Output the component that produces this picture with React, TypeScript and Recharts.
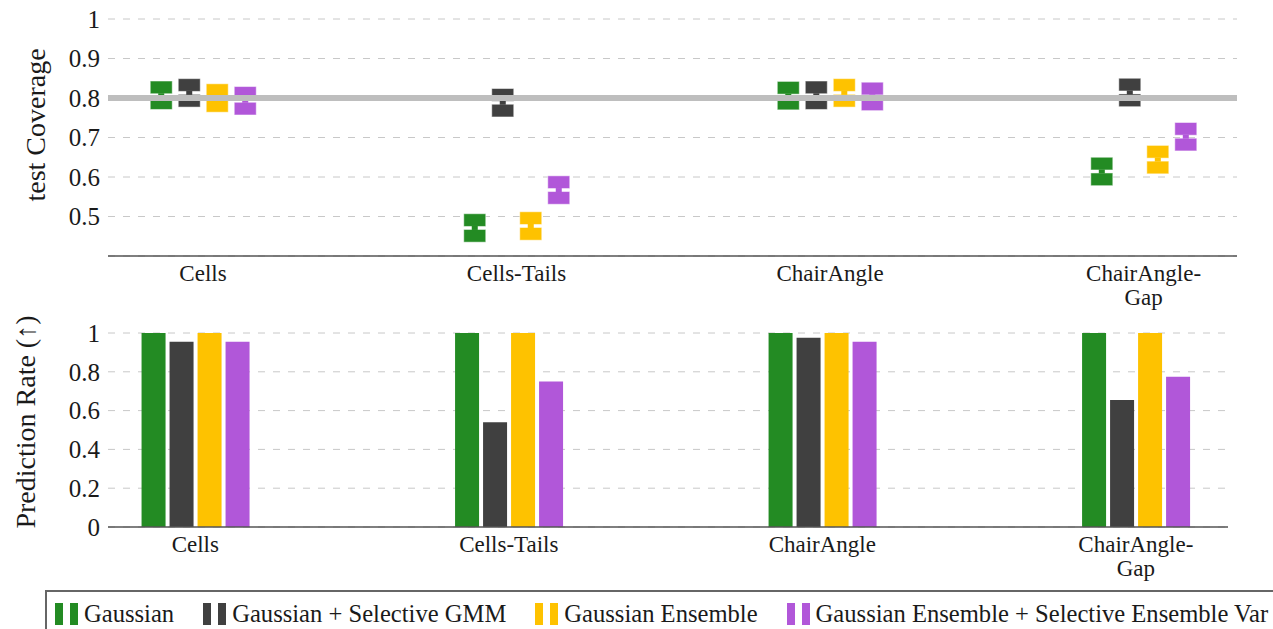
import React from "react";
import {
  ComposedChart,
  BarChart,
  Bar,
  XAxis,
  YAxis,
  CartesianGrid,
  ReferenceLine,
} from "recharts";

// categories (index on the numeric x axis) and their tick lines
const categories = ["Cells", "Cells-Tails", "ChairAngle", "ChairAngle-Gap"];
const categoryLines = [["Cells"], ["Cells-Tails"], ["ChairAngle"], ["ChairAngle-", "Gap"]];

// test coverage: mean of each interval marker
const gaussianCov = [0.807, 0.471, 0.806, 0.614];
const gmmCov = [0.813, 0.788, 0.807, 0.814];
const ensembleCov = [0.8, 0.476, 0.813, 0.644];
const ensVarCov = [0.793, 0.567, 0.804, 0.702];
const covHalfWidth = [0.036, 0.036, 0.036, 0.036];

// prediction rate
const gaussianRate = [1, 1, 1, 1];
const gmmRate = [0.955, 0.54, 0.975, 0.655];
const ensembleRate = [1, 1, 1, 1];
const ensVarRate = [0.955, 0.75, 0.955, 0.775];

const coverageTicks = [0.5, 0.6, 0.7, 0.8, 0.9, 1];
const rateTicks = [0, 0.2, 0.4, 0.6, 0.8, 1];

const series = [
  { key: "gaussian", name: "Gaussian", color: "#238b23" },
  { key: "gmm", name: "Gaussian + Selective GMM", color: "#404040" },
  { key: "ensemble", name: "Gaussian Ensemble", color: "#fec200" },
  { key: "ensVar", name: "Gaussian Ensemble + Selective Ensemble Var", color: "#b157d9" },
];

const FONT = "'Liberation Serif', serif";
const TEXT = "#1a1a1a";

const range = (m: number, h: number) => [m - h, m + h];

const coverageData = categories.map((name, i) => ({
  idx: i,
  name,
  gaussian: range(gaussianCov[i], covHalfWidth[i]),
  gmm: range(gmmCov[i], covHalfWidth[i]),
  ensemble: range(ensembleCov[i], covHalfWidth[i]),
  ensVar: range(ensVarCov[i], covHalfWidth[i]),
}));

const rateData = categories.map((name, i) => ({
  idx: i,
  name,
  gaussian: gaussianRate[i],
  gmm: gmmRate[i],
  ensemble: ensembleRate[i],
  ensVar: ensVarRate[i],
}));

function CategoryTick({ x, y, payload }: any) {
  const lines = categoryLines[payload.value] ?? [];
  return (
    <text x={x} y={y + 25} textAnchor="middle" fontSize={23} fill={TEXT} fontFamily={FONT}>
      {lines.map((l, i) => (
        <tspan key={i} x={x} dy={i === 0 ? 0 : 24}>
          {l}
        </tspan>
      ))}
    </text>
  );
}

// interval marker: box split at the mean with a small bridge in the middle
function IntervalMarker(props: any) {
  const { x, y, width, height, fill } = props;
  if (width == null || height == null) return null;
  const mid = y + height / 2;
  const cx = x + width / 2;
  return (
    <g>
      <rect x={x} y={y} width={width} height={height / 2 - 1.5} fill={fill} stroke="#fff" strokeOpacity={0.5} />
      <rect x={x} y={mid + 1.5} width={width} height={height / 2 - 1.5} fill={fill} stroke="#fff" strokeOpacity={0.5} />
      <rect x={cx - 3} y={mid - 2} width={6} height={4} fill={fill} />
    </g>
  );
}

function axisTitle(text: string, cx: number, cy: number) {
  return () => (
    <text
      x={cx}
      y={cy}
      transform={`rotate(-90 ${cx} ${cy})`}
      textAnchor="middle"
      dominantBaseline="central"
      fontSize={28}
      fill={TEXT}
      fontFamily={FONT}
    >
      {text}
    </text>
  );
}

function LegendBox() {
  return (
    <div
      style={{
        position: "absolute",
        left: 45,
        top: 590,
        width: 1240,
        height: 45,
        borderTop: "2px solid #666",
        borderLeft: "2px solid #666",
        display: "flex",
        alignItems: "center",
        paddingLeft: 8,
        boxSizing: "border-box",
        fontFamily: FONT,
        fontSize: 24.6,
        color: TEXT,
        gap: 29,
        whiteSpace: "nowrap",
      }}
    >
      {series.map((s) => (
        <div key={s.key} style={{ display: "flex", alignItems: "center" }}>
          <span style={{ display: "inline-block", width: 8, height: 22, background: s.color }} />
          <span style={{ display: "inline-block", width: 8, height: 22, background: s.color, marginLeft: 7 }} />
          <span style={{ marginLeft: 6 }}>{s.name}</span>
        </div>
      ))}
    </div>
  );
}

export default function App() {
  return (
    <div style={{ position: "absolute", left: 0, top: 0, width: 1273, height: 629, background: "#fff", overflow: "hidden" }}>
      <div style={{ position: "absolute", left: 0, top: 0 }}>
        <ComposedChart
          width={1273}
          height={310}
          data={coverageData}
          margin={{ top: 19, right: 36, left: 0, bottom: 0 }}
          barGap={6}
        >
          <CartesianGrid vertical={false} stroke="#c8c8c8" strokeDasharray="7 8" />
          <XAxis
            dataKey="idx"
            type="number"
            domain={[-0.303, 3.298]}
            ticks={[0, 1, 2, 3]}
            allowDataOverflow
            height={54}
            tickSize={0}
            tickMargin={0}
            tick={<CategoryTick />}
            axisLine={{ stroke: "#555", strokeWidth: 1.5 }}
          />
          <YAxis
            type="number"
            domain={[0.4, 1]}
            ticks={coverageTicks}
            allowDataOverflow
            width={108}
            axisLine={false}
            tickLine={false}
            tick={{ fontSize: 25, fill: TEXT, fontFamily: FONT }}
            label={axisTitle("test Coverage", 35, 125)}
          />
          <ReferenceLine y={0.8} stroke="#bebebe" strokeWidth={6} />
          {series.map((s) => (
            <Bar
              key={s.key}
              dataKey={s.key}
              name={s.name}
              fill={s.color}
              barSize={22}
              shape={<IntervalMarker />}
              isAnimationActive={false}
            />
          ))}
        </ComposedChart>
      </div>
      <div style={{ position: "absolute", left: 0, top: 305 }}>
        <BarChart
          width={1273}
          height={277}
          data={rateData}
          margin={{ top: 28, right: 45, left: 0, bottom: 0 }}
          barGap={4}
        >
          <CartesianGrid vertical={false} stroke="#c8c8c8" strokeDasharray="7 8" />
          <XAxis
            dataKey="idx"
            type="number"
            domain={[-0.2785, 3.294]}
            ticks={[0, 1, 2, 3]}
            allowDataOverflow
            height={55}
            tickSize={0}
            tickMargin={0}
            tick={<CategoryTick />}
            axisLine={{ stroke: "#555", strokeWidth: 1.5 }}
          />
          <YAxis
            type="number"
            domain={[0, 1]}
            ticks={rateTicks}
            width={108}
            axisLine={false}
            tickLine={false}
            tick={{ fontSize: 25, fill: TEXT, fontFamily: FONT }}
            label={axisTitle("Prediction Rate (\u2191)", 25, 117)}
          />
          {series.map((s) => (
            <Bar
              key={s.key}
              dataKey={s.key}
              name={s.name}
              fill={s.color}
              barSize={24}
              isAnimationActive={false}
            />
          ))}
        </BarChart>
      </div>
      <LegendBox />
    </div>
  );
}
